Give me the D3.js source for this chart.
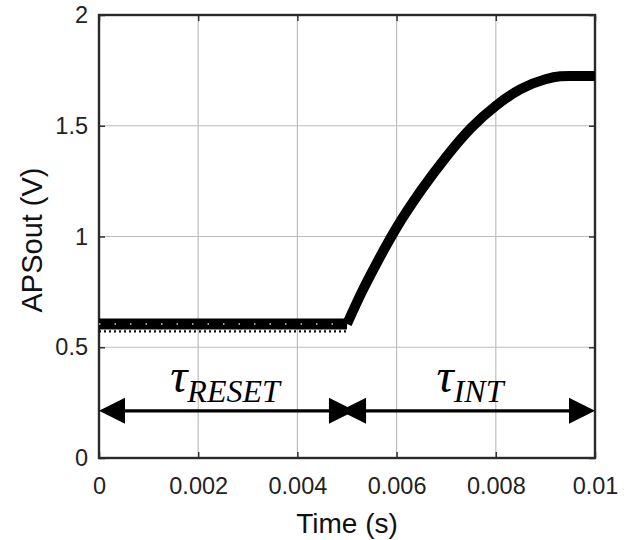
<!DOCTYPE html>
<html>
<head>
<meta charset="utf-8">
<script src="https://cdn.jsdelivr.net/npm/d3@7"></script>
<style>
  html, body { margin: 0; padding: 0; background: #fff; }
  svg { display: block; }
</style>
</head>
<body>
<svg id="chart" width="627" height="540"></svg>
<script>
// ---- data ----
const xTicks = [0, 0.002, 0.004, 0.006, 0.008, 0.01];
const xTickLabels = ["0", "0.002", "0.004", "0.006", "0.008", "0.01"];
const yTicks = [0, 0.5, 1, 1.5, 2];
const yTickLabels = ["0", "0.5", "1", "1.5", "2"];

// reset phase (flat)
const resetTime = [0, 0.005];
const resetVolt = [0.605, 0.605];
// reset ripple (dotted trace under the thick line)
const rippleVolt = [0.572, 0.572];
// integration phase (ramp)
const intTime = [0.005, 0.0053, 0.0056, 0.006, 0.0065, 0.007, 0.0075, 0.008, 0.0085, 0.009, 0.0093, 0.0095, 0.01];
const intVolt = [0.605, 0.75, 0.88, 1.04, 1.21, 1.36, 1.49, 1.59, 1.665, 1.71, 1.723, 1.725, 1.725];

// annotation spans
const spanNames = ["RESET", "INT"];
const spanStart = [0, 0.00486];
const spanEnd = [0.00516, 0.01];
const spanLabelX = [0.00254, 0.00748];
const arrowLevel = 0.213;
const labelLevel = 0.30;

// ---- layout ----
const W = 627, H = 540;
const m = { left: 99, right: 32, top: 15, bottom: 82 };
const iw = W - m.left - m.right, ih = H - m.top - m.bottom;

const svg = d3.select("#chart");
const g = svg.append("g").attr("transform", `translate(${m.left},${m.top})`);

const x = d3.scaleLinear().domain([0, 0.01]).range([0, iw]);
const y = d3.scaleLinear().domain([0, 2]).range([ih, 0]);

// grid
g.append("g").selectAll("line").data(xTicks.slice(1, -1)).join("line")
  .attr("x1", d => x(d)).attr("x2", d => x(d)).attr("y1", 0).attr("y2", ih)
  .attr("stroke", "#bdbdbd").attr("stroke-width", 1.2);
g.append("g").selectAll("line").data(yTicks.slice(1, -1)).join("line")
  .attr("y1", d => y(d)).attr("y2", d => y(d)).attr("x1", 0).attr("x2", iw)
  .attr("stroke", "#bdbdbd").attr("stroke-width", 1.2);

// axes
const fontFam = "'Liberation Sans', Arial, sans-serif";
const xAxis = d3.axisBottom(x).tickValues(xTicks).tickFormat((d, i) => xTickLabels[i]).tickSize(-6).tickPadding(19);
const yAxis = d3.axisLeft(y).tickValues(yTicks).tickFormat((d, i) => yTickLabels[i]).tickSize(-6).tickPadding(11);
const gx = g.append("g").attr("transform", `translate(0,${ih})`).call(xAxis);
const gy = g.append("g").call(yAxis);
const gxTop = g.append("g").call(d3.axisTop(x).tickValues(xTicks).tickSize(-6).tickFormat(""));
const gyRight = g.append("g").attr("transform", `translate(${iw},0)`).call(d3.axisRight(y).tickValues(yTicks).tickSize(-6).tickFormat(""));
[gx, gy, gxTop, gyRight].forEach(a => {
  a.select(".domain").remove();
  a.selectAll(".tick line").attr("stroke", "#333").attr("stroke-width", 1.5);
  a.selectAll(".tick text").attr("font-family", fontFam).attr("font-size", 23.5).attr("fill", "#222");
});
gx.selectAll(".tick text").attr("dy", "0.71em");

// frame
g.append("rect").attr("x", 0).attr("y", 0).attr("width", iw).attr("height", ih)
  .attr("fill", "none").attr("stroke", "#2a2a2a").attr("stroke-width", 2.4);

// data lines
const lineLin = d3.line().x(d => x(d[0])).y(d => y(d[1]));
const lineSmooth = d3.line().x(d => x(d[0])).y(d => y(d[1])).curve(d3.curveMonotoneX);

const resetPts = resetTime.map((t, i) => [t, resetVolt[i]]);
const ripplePts = resetTime.map((t, i) => [t, rippleVolt[i]]);
const intPts = intTime.map((t, i) => [t, intVolt[i]]);

g.append("path").attr("d", lineLin(ripplePts)).attr("fill", "none")
  .attr("stroke", "#111").attr("stroke-width", 2.2).attr("stroke-dasharray", "2,3");
g.append("path").attr("d", lineLin(resetPts)).attr("fill", "none")
  .attr("stroke", "#000").attr("stroke-width", 11);
g.append("path").attr("d", lineLin(resetPts)).attr("fill", "none")
  .attr("stroke", "#fff").attr("stroke-width", 1.4).attr("stroke-dasharray", "1.5,14").attr("opacity", 0.8);
g.append("path").attr("d", lineSmooth(intPts)).attr("fill", "none")
  .attr("stroke", "#000").attr("stroke-width", 10).attr("stroke-linejoin", "round");

// annotation arrows
const headL = 26, headH = 13;
spanNames.forEach((name, i) => {
  const x0 = x(spanStart[i]), x1 = x(spanEnd[i]), yy = y(arrowLevel);
  g.append("line").attr("x1", x0 + 5).attr("x2", x1 - 5).attr("y1", yy).attr("y2", yy)
    .attr("stroke", "#000").attr("stroke-width", 3.2);
  g.append("path").attr("d", `M${x0},${yy} L${x0 + headL},${yy - headH} L${x0 + headL},${yy + headH} Z`).attr("fill", "#000");
  g.append("path").attr("d", `M${x1},${yy} L${x1 - headL},${yy - headH} L${x1 - headL},${yy + headH} Z`).attr("fill", "#000");
  const t = g.append("text").attr("x", x(spanLabelX[i])).attr("y", y(labelLevel))
    .attr("text-anchor", "middle").attr("font-family", "'Liberation Serif', 'DejaVu Serif', serif")
    .attr("font-style", "italic").attr("fill", "#000");
  t.append("tspan").attr("font-size", 48).text("τ");
  t.append("tspan").attr("font-size", 32).attr("dy", 10).text(name);
});

// axis titles
svg.append("text").attr("x", m.left + iw / 2).attr("y", 533).attr("text-anchor", "middle")
  .attr("font-family", fontFam).attr("font-size", 28).attr("fill", "#111").text("Time (s)");
svg.append("text").attr("transform", `translate(42,240) rotate(-90)`).attr("text-anchor", "middle")
  .attr("font-family", fontFam).attr("font-size", 29).attr("fill", "#111").text("APSout (V)");
</script>
</body>
</html>
